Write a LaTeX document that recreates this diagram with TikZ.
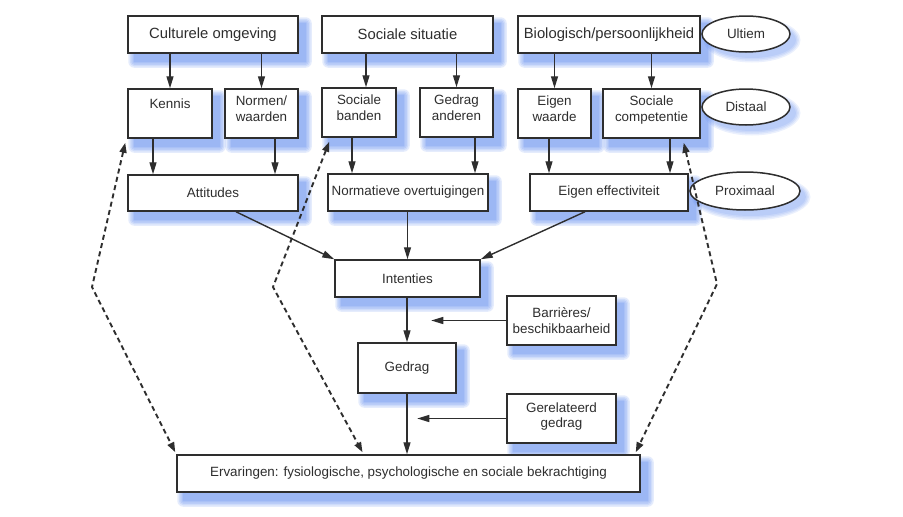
\documentclass[tikz,border=0pt]{standalone}
\usepackage{fontspec}
\setmainfont{Liberation Sans}
\usetikzlibrary{arrows.meta,backgrounds,calc,shapes.geometric}
\definecolor{ink}{HTML}{2E2E2E}
\definecolor{shblue}{RGB}{70,120,235}
\tikzset{
  box/.style={draw=ink, line width=1.5pt, fill=white, rectangle, inner sep=2pt, align=center,
    font=\fontsize{13.4}{15.5}\selectfont, text=ink},
  topbox/.style={box, font=\fontsize{14.8}{17}\selectfont},
  oval/.style={draw=ink, line width=1.5pt, fill=white, ellipse, inner sep=0pt,
    font=\fontsize{13.4}{15.5}\selectfont, text=ink},
  arr/.style={draw=ink, line width=1.4pt, -{Triangle[length=12pt,width=7pt]}},
  dasharr/.style={draw=ink, line width=1.9pt, dash pattern=on 5pt off 3.5pt,
    {Triangle[length=10pt,width=7pt]}-{Triangle[length=10pt,width=7pt]}},
  raised/.style={text depth=10pt}
}
\begin{document}
\begin{tikzpicture}[x=1pt,y=-1pt]
\useasboundingbox (0,0) rectangle (903,517);
% top row
\node[topbox, minimum width=170pt, minimum height=37pt] (cult) at (213,34.5) {Culturele omgeving};
\node[topbox, minimum width=171pt, minimum height=37pt] (sit) at (407.5,34.5) {Sociale situatie};
\node[topbox, minimum width=182pt, minimum height=37pt] (bio) at (609,34.5) {Biologisch/persoonlijkheid};
\node[oval, minimum width=88pt, minimum height=36pt] (ult) at (746,34) {Ultiem};
% middle row
\node[box, minimum width=84pt, minimum height=49pt, text depth=20pt] (kennis) at (170,113.5) {Kennis};
\node[box, raised, minimum width=73pt, minimum height=49pt] (normen) at (261.5,113.5) {Normen/\\waarden};
\node[box, raised, minimum width=74pt, minimum height=49pt] (banden) at (359,112.5) {Sociale\\banden};
\node[box, raised, minimum width=73pt, minimum height=49pt] (anderen) at (456.5,112.5) {Gedrag\\anderen};
\node[box, raised, minimum width=73pt, minimum height=49pt] (waarde) at (554.5,113.5) {Eigen\\waarde};
\node[box, raised, minimum width=97pt, minimum height=49pt] (comp) at (651.5,113.5) {Sociale\\competentie};
\node[oval, minimum width=88pt, minimum height=36pt] (dist) at (746,107) {Distaal};
% third row
\node[box, minimum width=170pt, minimum height=36pt] (att) at (213,193) {Attitudes};
\node[box, minimum width=160pt, minimum height=37pt] (norm) at (408,192.5) {Normatieve overtuigingen};
\node[box, minimum width=158pt, minimum height=37pt] (eff) at (609,192.5) {Eigen effectiviteit};
\node[oval, minimum width=110pt, minimum height=38pt] (prox) at (745,191) {Proximaal};
% lower part
\node[box, minimum width=145pt, minimum height=37pt] (int) at (407.5,278.5) {Intenties};
\node[box, minimum width=109pt, minimum height=49pt] (bar) at (561.5,320.5) {Barrières/\\beschikbaarheid};
\node[box, minimum width=98pt, minimum height=50pt] (ged) at (407,368) {Gedrag};
\node[box, minimum width=109pt, minimum height=49pt, text depth=7pt] (ger) at (561.5,418.5) {Gerelateerd\\gedrag};
\node[box, minimum width=463pt, minimum height=37pt] (erv) at (408.5,473.5) {Ervaringen: fysiologische, psychologische en sociale bekrachtiging};

% shadows
\begin{scope}[on background layer]
\foreach \n in {cult,sit,bio,kennis,normen,banden,anderen,waarde,comp,att,norm,eff,int,bar,ged,ger,erv}{
  \foreach \r in {0,1.5,3,4.5,6}{
    \fill[shblue,opacity=0.14,rounded corners=\r pt] ([shift={(7-\r,8-\r)}]\n.north west) rectangle ([shift={(7+\r,8+\r)}]\n.south east);
  }
}
\foreach \n/\a/\b in {ult/44/18,dist/44/18,prox/55/19}{
  \foreach \r in {0,1.5,3,4.5}{
    \fill[shblue,opacity=0.11] ([shift={(6,6)}]\n.center) ellipse [x radius=\a+\r, y radius=\b+\r];
  }
}
\end{scope}

% solid arrows, top to middle
\draw[arr] (cult.south -| kennis.north) -- (kennis.north);
\draw[arr] (cult.south -| normen.north) -- (normen.north);
\draw[arr] ([xshift=7pt]banden.north |- sit.south) -- ([xshift=7pt]banden.north);
\draw[arr] (sit.south -| anderen.north) -- (anderen.north);
\draw[arr] (bio.south -| waarde.north) -- (waarde.north);
\draw[arr] (bio.south -| comp.north) -- (comp.north);
% middle to third row
\draw[arr] ([xshift=-17pt]kennis.south) -- ([xshift=-17pt]kennis.south |- att.north);
\draw[arr] ([xshift=13.5pt]normen.south) -- ([xshift=13.5pt]normen.south |- att.north);
\draw[arr] ([xshift=-7pt]banden.south) -- ([xshift=-7pt]banden.south |- norm.north);
\draw[arr] ([xshift=18.5pt]anderen.south) -- ([xshift=18.5pt]anderen.south |- norm.north);
\draw[arr] ([xshift=-5.5pt]waarde.south) -- ([xshift=-5.5pt]waarde.south |- eff.north);
\draw[arr] ([xshift=18.5pt]comp.south) -- ([xshift=18.5pt]comp.south |- eff.north);
% to intenties
\draw[arr] ([xshift=23pt]att.south) -- (int.north west);
\draw[arr] (norm.south -| int.north) -- (int.north);
\draw[arr] ([xshift=-24pt]eff.south) -- (int.north east);
% lower chain
\draw[arr] (int.south -| ged.north) -- (ged.north);
\draw[arr] (ged.south) -- (ged.south |- erv.north);
\coordinate (barEnd) at ([xshift=-75pt]bar.west);
\coordinate (gerEnd) at ([xshift=-89pt]ger.west);
\draw[arr] (bar.west) -- (barEnd);
\draw[arr] (ger.west) -- (gerEnd);

% dashed feedback arrows
\coordinate (bL) at (92,287);
\coordinate (bM) at (273,287);
\coordinate (bR) at (717,284);
\draw[dasharr] ([shift={(-2,4)}]kennis.south west) -- (bL) -- ([shift={(-1,-2)}]erv.north west);
\draw[dasharr] ([shift={(8,4)}]banden.south west) -- (bM) -- ([shift={(-46,-2)}]erv.north);
\draw[dasharr] ([shift={(-17,4)}]comp.south east) -- (bR) -- ([shift={(-5,-2)}]erv.north east);
\end{tikzpicture}
\end{document}
